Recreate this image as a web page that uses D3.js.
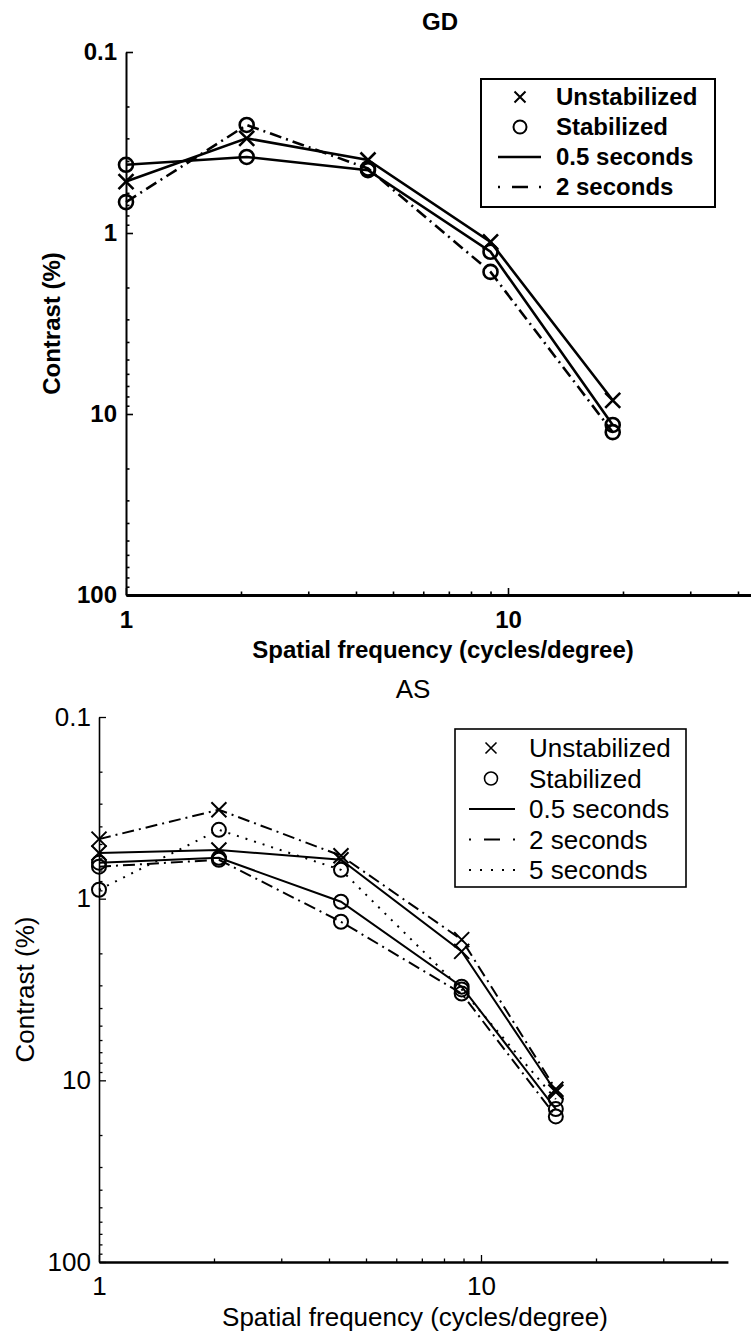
<!DOCTYPE html>
<html>
<head>
<meta charset="utf-8">
<script src="https://cdn.jsdelivr.net/npm/d3@7"></script>
<style>
  body { margin: 0; background: #fff; }
  svg { display: block; }
</style>
</head>
<body>
<div id="chart"></div>
<script>
const WIDTH = 751
const HEIGHT = 1336
const FONT = '"Liberation Sans", Arial, Helvetica, sans-serif'

// shared axis values
const X_MAX = 44.3
const xTickValues = [1, 10]
const xTickLabels = ["1", "10"]
const xMinorValues = [2, 3, 4, 5, 6, 7, 8, 9, 20, 30, 40]
const yTickValues = [0.1, 1, 10, 100]
const yTickLabels = ["0.1", "1", "10", "100"]
const yMinorValues = [0.2, 0.3, 0.4, 0.5, 0.6, 0.7, 0.8, 0.9, 2, 3, 4, 5, 6, 7, 8, 9, 20, 30, 40, 50, 60, 70, 80, 90]

// GD panel (contrast threshold, %)
const gdFreq = [1, 2.07, 4.3, 9.0, 18.8]
const gdUnstab05 = [0.52, 0.30, 0.395, 1.12, 8.4]
const gdStab05 = [0.42, 0.38, 0.45, 1.27, 11.5]
const gdStab2 = [0.675, 0.253, 0.44, 1.64, 12.6]
const gdLegend = ["Unstabilized", "Stabilized", "0.5 seconds", "2 seconds"]

// AS panel
const asFreq = [1, 2.06, 4.3, 8.9, 15.7]
const asUnstab05 = [0.56, 0.54, 0.61, 1.95, 11.6]
const asUnstab2 = [0.47, 0.324, 0.58, 1.68, 11.2]
const asStab05 = [0.634, 0.596, 1.04, 3.05, 14.4]
const asStab2 = [0.667, 0.611, 1.34, 3.33, 15.8]
const asStab5 = [0.893, 0.418, 0.694, 3.16, 12.7]
const asLegend = ["Unstabilized", "Stabilized", "0.5 seconds", "2 seconds", "5 seconds"]

const DASH = { solid: null, dashdot: "12,5,2,5", dotted: "2,7" }

const svg = d3.select("#chart")
  .append("svg")
    .attr("width", WIDTH)
    .attr("height", HEIGHT)

function zip(freq, vals) {
    return freq.map((f, i) => ({ f: f, v: vals[i] }))
}

function drawMarker(g, type, cx, cy, size, sw) {
    if (type === "x") {
        g.append("path")
          .attr("d", `M${cx - size},${cy - size}L${cx + size},${cy + size}M${cx - size},${cy + size}L${cx + size},${cy - size}`)
          .attr("stroke", "#000").attr("stroke-width", sw).attr("fill", "none")
    } else {
        g.append("circle")
          .attr("cx", cx).attr("cy", cy).attr("r", size)
          .attr("stroke", "#000").attr("stroke-width", sw).attr("fill", "none")
    }
}

function drawPanel(p) {
    const x = d3.scaleLog()
        .domain([1, X_MAX])
        .range([p.left, p.left + p.decade * Math.log10(X_MAX)])
    const y = d3.scaleLog()
        .domain([0.1, 100])
        .range([p.top, p.bottom])

    const g = svg.append("g")
        .style("font-family", FONT)
        .attr("font-weight", p.bold ? "bold" : "normal")

    // minor ticks first
    g.append("g")
        .attr("transform", `translate(${p.left},0)`)
        .call(d3.axisLeft(y).tickValues(yMinorValues).tickSize(-3.5).tickSizeOuter(0).tickFormat(""))
        .call(a => a.select(".domain").remove())
    g.append("g")
        .attr("transform", `translate(0,${p.bottom})`)
        .call(d3.axisBottom(x).tickValues(xMinorValues).tickSize(-3.5).tickSizeOuter(0).tickFormat(""))
        .call(a => a.select(".domain").remove())

    const yAxis = g.append("g")
        .attr("transform", `translate(${p.left},0)`)
        .call(d3.axisLeft(y).tickValues(yTickValues).tickSize(-7).tickSizeOuter(0)
            .tickPadding(p.yPad).tickFormat((d, i) => yTickLabels[i]))
    const xAxis = g.append("g")
        .attr("transform", `translate(0,${p.bottom})`)
        .call(d3.axisBottom(x).tickValues(xTickValues).tickSize(-7).tickSizeOuter(0)
            .tickPadding(p.xPad).tickFormat((d, i) => xTickLabels[i]))

    g.selectAll(".tick line").attr("stroke", "#000").attr("stroke-width", p.tickW)
    yAxis.select(".domain").attr("stroke-width", p.axisW)
    xAxis.select(".domain").attr("stroke-width", p.axisW + 0.8)
    g.selectAll(".tick text")
        .attr("font-family", FONT)
        .attr("font-size", p.fs)
        .attr("fill", "#000")
    yAxis.attr("font-family", null).attr("font-size", null)
    xAxis.attr("font-family", null).attr("font-size", null)

    // titles
    g.append("text")
        .attr("x", p.titleX).attr("y", p.titleY)
        .attr("text-anchor", "middle").attr("dy", "0.35em")
        .attr("font-size", p.fs).text(p.title)
    g.append("text")
        .attr("x", p.xLabelX).attr("y", p.xLabelY)
        .attr("text-anchor", "middle").attr("dy", "0.35em")
        .attr("font-size", p.fs).text("Spatial frequency (cycles/degree)")
    g.append("text")
        .attr("transform", `translate(${p.yLabelX},${(p.top + p.bottom) / 2}) rotate(-90)`)
        .attr("text-anchor", "middle").attr("dy", "0.35em")
        .attr("font-size", p.fs).text("Contrast (%)")

    // lines
    const line = d3.line().x(d => x(d.f)).y(d => y(d.v))
    p.series.forEach(s => {
        const pts = zip(p.freq, s.vals)
        g.append("path")
            .datum(pts)
            .attr("d", line)
            .attr("fill", "none")
            .attr("stroke", "#000")
            .attr("stroke-width", p.lineW)
            .attr("stroke-dasharray", DASH[s.style])
        pts.forEach(d => drawMarker(g, s.marker, x(d.f), y(d.v), s.marker === "x" ? 7.5 : 7, p.lineW))
    })

    // legend
    const L = p.legend
    const lg = g.append("g")
    lg.append("rect")
        .attr("x", L.x).attr("y", L.y).attr("width", L.w).attr("height", L.h)
        .attr("fill", "#fff").attr("stroke", "#000").attr("stroke-width", p.boxW)
    L.items.forEach((it, i) => {
        const cy = L.y + L.first + i * L.step
        if (it.marker) {
            drawMarker(lg, it.marker, L.symX, cy, it.marker === "x" ? 5.5 : 6.5, p.boxW)
        } else {
            lg.append("line")
                .attr("x1", L.lineX0).attr("x2", L.lineX1)
                .attr("y1", cy).attr("y2", cy)
                .attr("stroke", "#000").attr("stroke-width", p.lineW)
                .attr("stroke-dasharray", L.dash[it.style])
        }
        lg.append("text")
            .attr("x", L.textX).attr("y", cy).attr("dy", "0.35em")
            .attr("font-size", p.fs).text(it.label)
    })
}

drawPanel({
    title: "GD", bold: true, fs: 24,
    left: 126, top: 52, bottom: 595, decade: 382,
    yPad: 9, xPad: 16, tickW: 1.6, axisW: 2, lineW: 2.6, boxW: 2,
    titleX: 440, titleY: 22, xLabelX: 443, xLabelY: 650, yLabelX: 52,
    freq: gdFreq,
    series: [
        { vals: gdUnstab05, marker: "x", style: "solid" },
        { vals: gdStab05, marker: "o", style: "solid" },
        { vals: gdStab2, marker: "o", style: "dashdot" }
    ],
    legend: {
        x: 481, y: 79, w: 234, h: 128, first: 18, step: 30,
        symX: 520, lineX0: 498, lineX1: 541, textX: 556,
        dash: { solid: null, dashdot: "2,12,16,11,2,60" },
        items: [
            { label: gdLegend[0], marker: "x" },
            { label: gdLegend[1], marker: "o" },
            { label: gdLegend[2], style: "solid" },
            { label: gdLegend[3], style: "dashdot" }
        ]
    }
})

drawPanel({
    title: "AS", bold: false, fs: 26,
    left: 99, top: 717, bottom: 1262, decade: 382,
    yPad: 8, xPad: 15, tickW: 1.3, axisW: 1.6, lineW: 2, boxW: 1.6,
    titleX: 413, titleY: 689, xLabelX: 415, xLabelY: 1317, yLabelX: 25,
    freq: asFreq,
    series: [
        { vals: asUnstab05, marker: "x", style: "solid" },
        { vals: asUnstab2, marker: "x", style: "dashdot" },
        { vals: asStab05, marker: "o", style: "solid" },
        { vals: asStab2, marker: "o", style: "dashdot" },
        { vals: asStab5, marker: "o", style: "dotted" }
    ],
    legend: {
        x: 455, y: 729, w: 231, h: 158, first: 19, step: 30.5,
        symX: 491, lineX0: 469, lineX1: 515, textX: 529,
        dash: { solid: null, dashdot: "2,13,16,13,2,60", dotted: "2,9" },
        items: [
            { label: asLegend[0], marker: "x" },
            { label: asLegend[1], marker: "o" },
            { label: asLegend[2], style: "solid" },
            { label: asLegend[3], style: "dashdot" },
            { label: asLegend[4], style: "dotted" }
        ]
    }
})
</script>
</body>
</html>
